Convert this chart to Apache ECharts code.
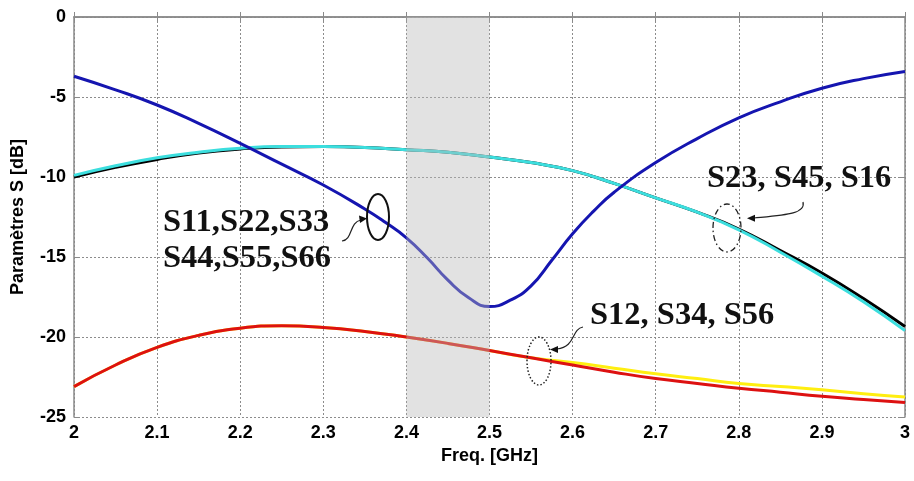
<!DOCTYPE html>
<html>
<head>
<meta charset="utf-8">
<script src="https://cdn.jsdelivr.net/npm/echarts@6/dist/echarts.min.js"></script>
<style>html,body{margin:0;padding:0;background:#fff;}#c{width:914px;height:481px;}</style>
</head>
<body>
<div id="c"></div>
<script>
// ---- data ----
const xTicks = [2, 2.1, 2.2, 2.3, 2.4, 2.5, 2.6, 2.7, 2.8, 2.9, 3];
const yTicks = [0, -5, -10, -15, -20, -25];
const bandRange = [2.4, 2.5];

const freqS11 = [2.00, 2.05, 2.10, 2.15, 2.20, 2.25, 2.30, 2.35, 2.375, 2.40, 2.425, 2.45, 2.475, 2.50, 2.525, 2.55, 2.575, 2.60, 2.625, 2.65, 2.70, 2.75, 2.80, 2.85, 2.90, 2.95, 3.00];
const S11 = [-3.7, -4.55, -5.5, -6.65, -7.9, -9.2, -10.5, -12.0, -12.85, -13.8, -15.05, -16.45, -17.55, -18.1, -17.7, -16.8, -15.2, -13.55, -12.15, -10.95, -9.1, -7.6, -6.3, -5.3, -4.45, -3.85, -3.4];

const freq = [2.00, 2.05, 2.10, 2.15, 2.20, 2.25, 2.30, 2.35, 2.40, 2.45, 2.50, 2.55, 2.60, 2.65, 2.70, 2.75, 2.80, 2.85, 2.90, 2.95, 3.00];
const S16 = [-10.0, -9.4, -8.9, -8.5, -8.25, -8.12, -8.1, -8.15, -8.3, -8.45, -8.75, -9.1, -9.6, -10.4, -11.3, -12.2, -13.25, -14.6, -16.0, -17.6, -19.35];
const S23 = [-9.9, -9.3, -8.8, -8.45, -8.2, -8.1, -8.1, -8.15, -8.3, -8.45, -8.75, -9.1, -9.6, -10.4, -11.3, -12.2, -13.3, -14.7, -16.2, -17.8, -19.6];
const S12y = [-23.1, -21.75, -20.65, -19.9, -19.45, -19.3, -19.4, -19.65, -20.0, -20.4, -20.85, -21.3, -21.6, -21.95, -22.3, -22.6, -22.9, -23.1, -23.3, -23.55, -23.75];
const S12 = [-23.1, -21.75, -20.65, -19.9, -19.45, -19.3, -19.4, -19.65, -20.0, -20.4, -20.85, -21.3, -21.75, -22.2, -22.6, -22.9, -23.2, -23.45, -23.7, -23.9, -24.1];

const labelS11a = 'S11,S22,S33';
const labelS11b = 'S44,S55,S66';
const labelS23 = 'S23, S45, S16';
const labelS12 = 'S12, S34, S56';

// ---- chart ----
const pairs = (xs, ys) => xs.map((x, i) => [x, ys[i]]);
const chart = echarts.init(document.getElementById('c'), null, {renderer: 'canvas'});
const axisGray = '#8a8a8a';
const lbl = {color: '#000', fontFamily: 'Liberation Sans, Arial, sans-serif', fontWeight: 'bold', fontSize: 18};
const serifFont = 'bold 32.5px "Liberation Serif", "Times New Roman", serif';

function line(name, data, color, z) {
  return {name, type: 'line', data, smooth: 0.5, symbol: 'none', z,
    lineStyle: {color, width: 3}, xAxisIndex: 0, yAxisIndex: 0};
}

chart.setOption({
  animation: false,
  backgroundColor: '#fff',
  grid: {left: 74, right: 9, top: 17, bottom: 64, containLabel: false},
  xAxis: [{
    type: 'value', min: 2, max: 3, interval: 0.1,
    name: 'Freq. [GHz]', nameLocation: 'middle', nameGap: 30,
    nameTextStyle: lbl,
    axisLine: {show: true, lineStyle: {color: axisGray, width: 1.5}},
    axisTick: {show: true, inside: true, length: 5, lineStyle: {color: axisGray}},
    axisLabel: Object.assign({margin: 7}, lbl),
    splitLine: {show: true, lineStyle: {color: '#8c8c8c', type: [2, 2], width: 1}}
  }, {
    type: 'value', min: 2, max: 3, interval: 0.1, position: 'top',
    axisLine: {show: true, lineStyle: {color: axisGray, width: 1.5}},
    axisTick: {show: true, inside: true, length: 5, lineStyle: {color: axisGray}},
    axisLabel: {show: false}, splitLine: {show: false}
  }],
  yAxis: [{
    type: 'value', min: -25, max: 0, interval: 5,
    name: 'Paramètres S [dB]', nameLocation: 'middle', nameGap: 47,
    nameTextStyle: lbl,
    axisLine: {show: true, lineStyle: {color: axisGray, width: 1.5}},
    axisTick: {show: true, inside: true, length: 5, lineStyle: {color: axisGray}},
    axisLabel: Object.assign({margin: 8}, lbl),
    splitLine: {show: true, lineStyle: {color: '#8c8c8c', type: [2, 2], width: 1}}
  }, {
    type: 'value', min: -25, max: 0, interval: 5, position: 'right',
    axisLine: {show: true, lineStyle: {color: axisGray, width: 1.5}},
    axisTick: {show: true, inside: true, length: 5, lineStyle: {color: axisGray}},
    axisLabel: {show: false}, splitLine: {show: false}
  }],
  series: [
    line('S16', pairs(freq, S16), '#000000', 2),
    line('S23', pairs(freq, S23), '#3cdede', 3),
    line('S12y', pairs(freq, S12y), '#ffee10', 2),
    line('S12', pairs(freq, S12), '#dd1111', 3),
    line('S11', pairs(freqS11, S11), '#1515b0', 3),
    {
      name: 'band', type: 'line', data: [], z: 10, silent: true,
      markArea: {silent: true, z: 10, itemStyle: {color: 'rgba(185,185,185,0.42)'},
        data: [[{xAxis: bandRange[0]}, {xAxis: bandRange[1]}]]}
    }
  ],
  graphic: [
    // S11 annotation
    {type: 'text', left: 163, top: 206, z: 100, style: {text: labelS11a, font: serifFont, fill: '#111'}},
    {type: 'text', left: 163, top: 242, z: 100, style: {text: labelS11b, font: serifFont, fill: '#111'}},
    {type: 'ellipse', z: 100, shape: {cx: 378, cy: 217, rx: 11, ry: 23}, style: {fill: 'none', stroke: '#111', lineWidth: 2}},
    {type: 'bezierCurve', z: 100, shape: {x1: 342, y1: 241, cpx1: 353, cpy1: 240, cpx2: 349, cpy2: 222, x2: 361, y2: 220}, style: {fill: 'none', stroke: '#222', lineWidth: 1.2}},
    {type: 'polygon', z: 100, shape: {points: [[367, 218.5], [359, 215.5], [360, 223]]}, style: {fill: '#111'}},
    // S23 annotation
    {type: 'text', left: 707, top: 162, z: 100, style: {text: labelS23, font: serifFont, fill: '#111'}},
    {type: 'ellipse', z: 100, shape: {cx: 727, cy: 228, rx: 14, ry: 24}, style: {fill: 'none', stroke: '#222', lineWidth: 1.3, lineDash: [6, 3, 1.5, 3]}},
    {type: 'bezierCurve', z: 100, shape: {x1: 803, y1: 202, cpx1: 806, cpy1: 214, cpx2: 785, cpy2: 215, x2: 754, y2: 218}, style: {fill: 'none', stroke: '#222', lineWidth: 1.2}},
    {type: 'polygon', z: 100, shape: {points: [[747, 218.3], [755, 214.8], [755, 221.8]]}, style: {fill: '#111'}},
    // S12 annotation
    {type: 'text', left: 590, top: 299, z: 100, style: {text: labelS12, font: serifFont, fill: '#111'}},
    {type: 'ellipse', z: 100, shape: {cx: 539, cy: 361, rx: 12, ry: 24}, style: {fill: 'none', stroke: '#222', lineWidth: 1.5, lineDash: [1.5, 2]}},
    {type: 'bezierCurve', z: 100, shape: {x1: 583, y1: 327, cpx1: 571, cpy1: 329, cpx2: 576, cpy2: 347, x2: 557, y2: 349}, style: {fill: 'none', stroke: '#222', lineWidth: 1.2}},
    {type: 'polygon', z: 100, shape: {points: [[550, 349.5], [558, 346], [558, 353]]}, style: {fill: '#111'}}
  ]
});
</script>
</body>
</html>
